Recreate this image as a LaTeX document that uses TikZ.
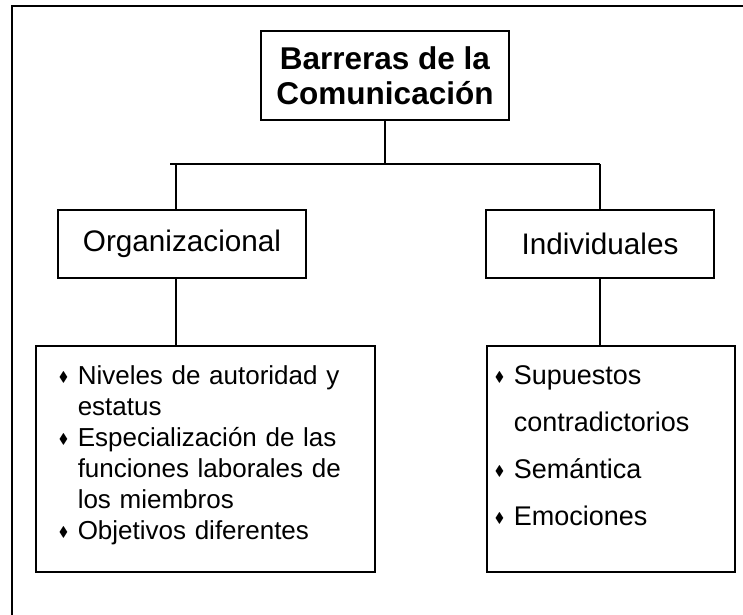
\documentclass[tikz,border=0pt]{standalone}
\usepackage{fontspec}
\setmainfont{Liberation Sans}
\usepackage{amssymb}
\usetikzlibrary{positioning}
\newcommand{\bulitem}{\makebox[19pt][l]{\raisebox{3pt}{\fontsize{14}{14}\selectfont$\blacklozenge$}}}
\newcommand{\bulskip}{\hspace*{19pt}}
\tikzset{
  every node/.style={
    font=\fontsize{26}{31}\selectfont
  },
  topbox/.style={
    shape=rectangle,
    draw,
    line width=1.5pt,
    minimum width=248pt,
    minimum height=89pt,
    align=center,
    font=\fontsize{31.5}{35}\selectfont\bfseries
  },
  branchbox/.style={
    shape=rectangle,
    draw,
    line width=1.5pt,
    minimum height=68pt,
    font=\fontsize{29.7}{34}\selectfont
  },
  listbox/.style n args={3}{
    shape=rectangle,
    draw,
    line width=1.5pt,
    anchor=north west,
    inner ysep=0pt,
    text width=#1,
    text height=#2,
    text depth=#3,
    align=left
  },
  link/.style={
    line width=1.5pt
  }
}
\begin{document}
\begin{tikzpicture}[x=1pt,y=-1pt]
  \useasboundingbox (0,0) rectangle (743,614);
  \clip (0,0) rectangle (743,614);
  % outer frame
  \draw[line width=2pt] (12,6) rectangle (780,650);
  \node [topbox] (title) at (385,75.5) {Barreras de la\\Comunicación};
  \node [branchbox, minimum width=248pt] (org) at (182,244) {Organizacional};
  \node [branchbox, minimum width=228pt] (ind) at (600,244) {Individuales};
  \node [listbox={293pt}{39pt}{187pt}, inner xsep=23pt] (orgList) at (35,345) {
    \bulitem Niveles de autoridad y\\
    \bulskip estatus\\
    \bulitem Especialización de las\\
    \bulskip funciones laborales de\\
    \bulskip los miembros\\
    \bulitem Objetivos diferentes};
  \node [listbox={232pt}{39pt}{187pt}, inner xsep=8pt,
    font=\fontsize{27}{47}\selectfont] (indList) at (486,345) {
    \bulitem Supuestos\\
    \bulskip contradictorios\\
    \bulitem Semántica\\
    \bulitem Emociones};
  % connectors
  \coordinate (busL) at (170,164);
  \coordinate (dropL) at (176,164);
  \coordinate (busR) at (600,164);
  \draw[link] (title.south) -- (title.south |- busL);
  \draw[link] (busL) -- (busR);
  \draw[link] (dropL) -- (dropL |- org.north);
  \draw[link] (busR) -- (busR |- ind.north);
  \draw[link] (dropL |- org.south) -- (dropL |- orgList.north);
  \draw[link] (ind.south) -- (ind.south |- indList.north);
\end{tikzpicture}
\end{document}
